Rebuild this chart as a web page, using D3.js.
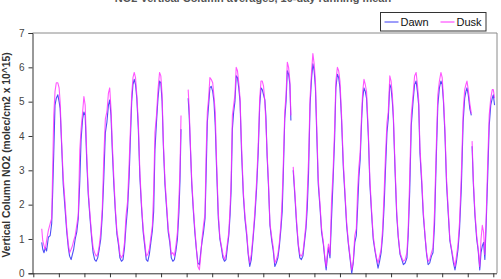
<!DOCTYPE html>
<html>
<head>
<meta charset="utf-8">
<script src="https://cdn.jsdelivr.net/npm/d3@7"></script>
<style>
  body { margin: 0; background: #fff; }
  svg { font-family: "Liberation Sans", Arial, sans-serif; display: block; }
</style>
</head>
<body>
<div class="chart"></div>
<script>
// NO2 vertical column, dawn vs dusk, 10 day running mean

// decimal year index (0 = first x tick)
var years = [
  0.33, 0.37, 0.42, 0.47, 0.52, 0.59, 0.66, 0.72, 0.76, 0.80, 0.85, 0.90, 0.96,
  1.01, 1.05, 1.11, 1.17, 1.24, 1.31, 1.37, 1.42, 1.48, 1.53, 1.58, 1.64, 1.70, 1.76, 1.82, 1.87, 1.93, 1.98,
  2.03, 2.09, 2.15, 2.22, 2.28, 2.34, 2.40, 2.46, 2.52, 2.58, 2.64, 2.70, 2.76, 2.82, 2.88, 2.94, 2.99,
  3.04, 3.09, 3.15, 3.21, 3.27, 3.33, 3.39, 3.45, 3.51, 3.57, 3.63, 3.69, 3.75, 3.79, 3.85, 3.90, 3.95,
  4.00, 4.05, 4.11, 4.17, 4.24, 4.30, 4.36, 4.42, 4.48, 4.54, 4.60, 4.66, 4.71, 4.76, 4.82, 4.88, 4.94, 4.99,
  5.04, 5.09, 5.15, 5.22, 5.28, 5.34, 5.40, 5.46, 5.52, 5.58, 5.64, 5.70, 5.74, 5.78, 5.83,
  6.06, 6.10, 6.14, 6.20, 6.26, 6.32, 6.38, 6.44, 6.50, 6.55, 6.60, 6.66, 6.72, 6.76, 6.81, 6.86, 6.91, 6.96,
  7.02, 7.07, 7.12, 7.17, 7.24, 7.30, 7.36, 7.42, 7.48, 7.54, 7.60, 7.65, 7.70, 7.74, 7.79, 7.84, 7.89, 7.94, 7.99,
  8.04, 8.09, 8.15, 8.22, 8.28, 8.35, 8.41, 8.47, 8.53, 8.60, 8.67, 8.74, 8.80, 8.86, 8.91, 8.96,
  9.01, 9.06, 9.10, 9.15, 9.20, 9.26, 9.33, 9.39, 9.45, 9.51, 9.57, 9.63, 9.69, 9.74, 9.78, 9.84, 9.89, 9.94, 9.99,
  10.04, 10.08, 10.12, 10.17, 10.24, 10.30, 10.37, 10.43, 10.49, 10.55, 10.61, 10.67, 10.72, 10.77, 10.83, 10.89, 10.94, 10.99,
  11.04, 11.09, 11.15, 11.22, 11.28, 11.35, 11.41, 11.46, 11.51, 11.55, 11.61, 11.67, 11.73, 11.79, 11.84, 11.90, 11.95,
  12.00, 12.06, 12.13, 12.20, 12.26, 12.33, 12.40, 12.46, 12.52, 12.58, 12.64, 12.69, 12.74, 12.79, 12.85, 12.89, 12.94, 12.99,
  13.04, 13.11, 13.17, 13.24, 13.30, 13.37, 13.43, 13.49, 13.55, 13.61, 13.67, 13.73, 13.78, 13.84, 13.89, 13.95,
  14.00, 14.05, 14.09, 14.15, 14.22, 14.28, 14.35, 14.42, 14.48, 14.55, 14.62, 14.67, 14.73, 14.79, 14.86, 14.92, 14.98,
  15.03, 15.08, 15.13, 15.20, 15.26, 15.33, 15.39, 15.45, 15.51, 15.58, 15.64, 15.70, 15.77, 15.83, 15.89, 15.95,
  16.00, 16.05, 16.11, 16.17, 16.24, 16.30, 16.37, 16.44, 16.50, 16.56, 16.62, 16.68, 16.75, 16.82, 16.88, 16.93, 16.97,
  17.02, 17.08, 17.14, 17.16, 17.17, 17.22, 17.28, 17.35, 17.41, 17.47, 17.52, 17.57, 17.62, 17.67, 17.72, 17.78, 17.84, 17.90, 17.96,
  18.00, 18.05
];

var dawn = [
  0.90, 0.70, 0.60, 0.75, 0.65, 1.05, 1.10, 1.45, 2.40, 3.50, 4.90, 5.10, 5.20,
  5.00, 4.80, 3.70, 2.60, 1.90, 1.20, 0.75, 0.50, 0.40, 0.55, 0.70, 1.00, 1.20, 1.60, 2.70, 3.90, 4.50, 4.70,
  4.60, 3.30, 2.30, 1.60, 1.05, 0.60, 0.40, 0.35, 0.45, 0.70, 1.00, 1.70, 2.80, 4.10, 4.40, 4.90, 5.05,
  4.60, 3.60, 2.60, 1.80, 1.15, 0.85, 0.45, 0.35, 0.40, 0.75, 1.40, 1.90, 2.80, 3.70, 5.00, 5.50, 5.65,
  5.50, 5.10, 4.20, 2.80, 1.85, 1.20, 0.80, 0.40, 0.35, 0.55, 0.90, 1.25, 1.80, 3.60, 4.40, 5.10, 5.60, 5.55,
  5.00, 3.70, 2.60, 1.85, 1.20, 0.90, 0.45, 0.35, 0.40, 0.65, 1.00, 1.80, 2.70, 4.20, null,
  5.10, 4.60, 3.80, 2.60, 1.85, 1.20, 0.70, 0.30, 0.25, 0.60, 0.90, 1.20, 1.60, 2.80, 4.40, 4.90, 5.40, 5.45,
  5.30, 5.00, 4.30, 3.10, 1.60, 1.00, 0.75, 0.45, 0.35, 0.40, 0.80, 1.10, 1.70, 2.40, 4.20, 4.70, 5.00, 5.75, 5.70,
  5.40, 5.00, 3.50, 2.25, 1.60, 1.10, 0.55, 0.20, 0.40, 1.00, 1.65, 2.50, 3.50, 4.90, 5.40, 5.35,
  5.20, 5.05, 4.60, 3.40, 2.60, 1.40, 0.95, 0.65, 0.20, 0.30, 0.45, 0.80, 1.30, 1.80, 2.80, 4.50, 5.00, 5.90, 5.80,
  5.50, 4.45, null, 3.00, 2.20, 1.45, 0.80, 0.45, 0.40, 0.50, 0.90, 1.30, 1.90, 2.90, 4.90, 5.70, 6.10, 5.90,
  5.40, 4.10, 2.60, 1.90, 1.20, 0.85, 0.40, 0.10, 0.50, 0.75, 0.45, 1.60, 2.70, 3.90, 5.40, 5.80, 5.70,
  5.40, 4.50, 3.10, 2.20, 1.40, 0.85, 0.40, 0.00, 0.30, 0.90, 1.10, 1.90, 2.80, 3.30, 4.50, 5.10, 5.40, 5.30,
  5.10, 4.00, 2.60, 1.70, 1.00, 0.65, 0.40, 0.15, 0.35, 0.60, 1.10, 2.00, 3.00, 4.10, 4.50, 5.50,
  5.40, 5.00, 4.50, 3.10, 1.70, 1.05, 0.55, 0.40, 0.25, 0.30, 0.45, 1.10, 2.40, 4.30, 5.00, 5.50, 5.60,
  5.30, 4.90, 3.50, 2.60, 1.70, 1.05, 0.55, 0.25, 0.30, 0.50, 0.60, 1.40, 3.40, 4.90, 5.40, 5.60,
  5.50, 5.00, 4.00, 2.60, 1.70, 0.95, 0.65, 0.30, 0.10, 0.35, 0.70, 1.30, 2.50, 4.40, 5.10, 5.30, 5.40,
  5.20, 4.80, 4.60, null, 3.70, 2.60, 1.70, 1.00, 0.65, 0.10, 0.60, 0.80, 0.90, 0.40, 1.40, 2.80, 4.30, 4.90, 5.10,
  5.20, 4.90
];

var dusk = [
  1.30, 0.95, 0.80, 0.70, 0.95, 1.25, 1.45, 1.60, 3.10, 4.60, 5.30, 5.55, 5.55,
  5.40, 5.00, 3.80, 2.80, 2.10, 1.30, 0.85, 0.60, 0.70, 0.80, 0.95, 1.10, 1.40, 1.70, 3.60, 4.20, 4.70, 5.15,
  4.90, 3.50, 2.40, 1.70, 1.15, 0.75, 0.60, 0.50, 0.55, 0.80, 1.20, 1.90, 3.40, 4.50, 4.70, 5.25, 5.40,
  4.80, 3.80, 2.80, 1.90, 1.25, 0.95, 0.55, 0.45, 0.55, 0.90, 1.70, 2.10, 3.20, 4.00, 5.20, 5.70, 5.85,
  5.70, 5.20, 4.40, 2.95, 1.95, 1.30, 0.90, 0.50, 0.55, 0.70, 1.05, 1.40, 2.40, 4.10, 4.60, 5.35, 5.85, 5.75,
  5.20, 3.80, 2.75, 1.95, 1.30, 1.00, 0.55, 0.60, 0.50, 0.80, 1.20, 2.20, 3.00, 4.60, null,
  5.35, 4.80, 3.90, 2.70, 1.95, 1.30, 0.75, 0.20, 0.10, 0.50, 1.00, 1.40, 1.75, 3.40, 4.70, 5.10, 5.70, 5.65,
  5.55, 5.15, 4.70, 3.30, 1.75, 1.05, 0.80, 0.55, 0.40, 0.55, 0.90, 1.20, 1.90, 2.70, 4.60, 4.90, 5.20, 6.00, 5.90,
  5.55, 5.10, 3.70, 2.35, 1.70, 1.20, 0.60, 0.30, 0.55, 1.10, 1.80, 2.70, 3.70, 5.10, 5.60, 5.60,
  5.45, 5.00, 4.40, 3.50, 2.70, 1.45, 1.05, 0.75, 0.30, 0.40, 0.55, 0.90, 1.45, 2.20, 3.10, 4.70, 5.20, 6.15, 6.00,
  5.60, 4.60, null, 3.10, 2.30, 1.55, 0.85, 0.55, 0.50, 0.60, 1.00, 1.45, 2.30, 3.30, 5.10, 5.90, 6.40, 6.10,
  5.60, 4.30, 2.75, 2.00, 1.30, 0.90, 0.45, 0.20, 0.60, 0.85, 0.55, 2.10, 2.95, 4.20, 5.60, 6.00, 5.90,
  5.60, 4.65, 3.25, 2.30, 1.50, 0.90, 0.45, 0.10, 0.35, 1.10, 1.30, 2.40, 3.10, 3.50, 4.70, 5.30, 5.65, 5.50,
  5.30, 4.10, 2.75, 1.80, 1.10, 0.70, 0.45, 0.30, 0.50, 0.70, 1.30, 2.40, 3.40, 4.40, 4.70, 5.75,
  5.60, 5.20, 4.60, 3.25, 1.80, 1.10, 0.60, 0.45, 0.35, 0.40, 0.60, 1.30, 2.80, 4.60, 5.20, 5.75, 5.85,
  5.50, 5.05, 3.65, 2.75, 1.80, 1.10, 0.60, 0.35, 0.40, 0.60, 0.75, 1.80, 3.70, 5.20, 5.60, 5.85,
  5.70, 5.10, 4.15, 2.75, 1.80, 1.00, 0.70, 0.40, 0.20, 0.50, 0.85, 1.50, 2.90, 4.70, 5.35, 5.50, 5.60,
  5.35, 4.95, 4.65, null, 3.85, 2.70, 1.80, 1.10, 0.70, 0.20, 1.00, 1.40, 1.20, 0.55, 1.60, 3.20, 4.60, 5.10, 5.35,
  5.35, 5.10
];

var yTicks = [0, 1, 2, 3, 4, 5, 6, 7];
var xTicks = d3.range(0, 19);

var svgWidth = 501;
var svgHeight = 279;

var svg = d3.select(".chart")
  .append("svg")
  .attr("width", svgWidth)
  .attr("height", svgHeight);

var x = d3.scaleLinear().domain([0, 18]).range([33.3, 493.3]);
var y = d3.scaleLinear().domain([0, 7]).range([273.3, 33]);

// title, mostly cut off at the top edge like the source image
svg.append("text")
  .attr("x", 253)
  .attr("y", 2)
  .attr("text-anchor", "middle")
  .attr("font-size", 11)
  .attr("font-weight", "bold")
  .attr("fill", "#555")
  .text("NO2 Vertical Column averages, 10-day running mean");

// plot frame (top and right)
svg.append("path")
  .attr("d", `M${x(0) - 0.8},${y(7)}H497V${y(0)}`)
  .attr("fill", "none")
  .attr("stroke", "#8a8a8a")
  .attr("stroke-width", 1);

// y axis
var yAxis = svg.append("g")
  .attr("transform", `translate(${x(0) - 0.8}, 0)`)
  .call(d3.axisLeft(y).tickValues(yTicks).tickSize(4).tickPadding(4).tickFormat(d3.format("d")));

// x axis, ticks but no labels
var xAxis = svg.append("g")
  .attr("transform", `translate(0, ${y(0)})`)
  .call(d3.axisBottom(x).tickValues(xTicks).tickSize(4).tickFormat(""));

xAxis.select(".domain").attr("d", `M${x(0) - 0.8},0.5H497`);

[yAxis, xAxis].forEach(function(g) {
  g.selectAll(".domain").attr("stroke", "#333");
  g.selectAll(".tick line").attr("stroke", "#333");
});
yAxis.selectAll(".tick text")
  .attr("font-size", 10)
  .attr("fill", "#444")
  .attr("font-family", "Liberation Sans, Arial, sans-serif");

// y label
svg.append("text")
  .attr("transform", "translate(9.5, 155) rotate(-90)")
  .attr("text-anchor", "middle")
  .attr("font-size", 10.3)
  .attr("font-weight", "bold")
  .attr("fill", "#333")
  .text("Vertical Column NO2 (molec/cm2 x 10^15)");

// lines
var series = [
  { name: "Dawn", values: dawn, color: "#3b3bf5", opacity: 0.9 },
  { name: "Dusk", values: dusk, color: "#ff2cff", opacity: 0.8 }
];

var line = d3.line()
  .defined(d => d[1] !== null)
  .x(d => x(d[0]))
  .y(d => y(d[1]));

series.forEach(function(s) {
  svg.append("path")
    .datum(years.map((t, i) => [t, s.values[i]]))
    .attr("fill", "none")
    .attr("stroke", s.color)
    .attr("stroke-opacity", s.opacity)
    .attr("stroke-width", 1.1)
    .attr("stroke-linejoin", "round")
    .attr("d", line);
});

// legend
var legend = svg.append("g").attr("transform", "translate(380.5, 12.5)");
legend.append("rect")
  .attr("width", 105.5)
  .attr("height", 18.5)
  .attr("fill", "#fff")
  .attr("stroke", "#333");

var legendX = [4, 60];
series.forEach(function(s, i) {
  legend.append("line")
    .attr("x1", legendX[i])
    .attr("x2", legendX[i] + 14)
    .attr("y1", 9.5)
    .attr("y2", 9.5)
    .attr("stroke", s.color);
  legend.append("text")
    .attr("x", legendX[i] + 16)
    .attr("y", 13.6)
    .attr("font-size", 11)
    .attr("fill", "#111")
    .text(s.name);
});
</script>
</body>
</html>
